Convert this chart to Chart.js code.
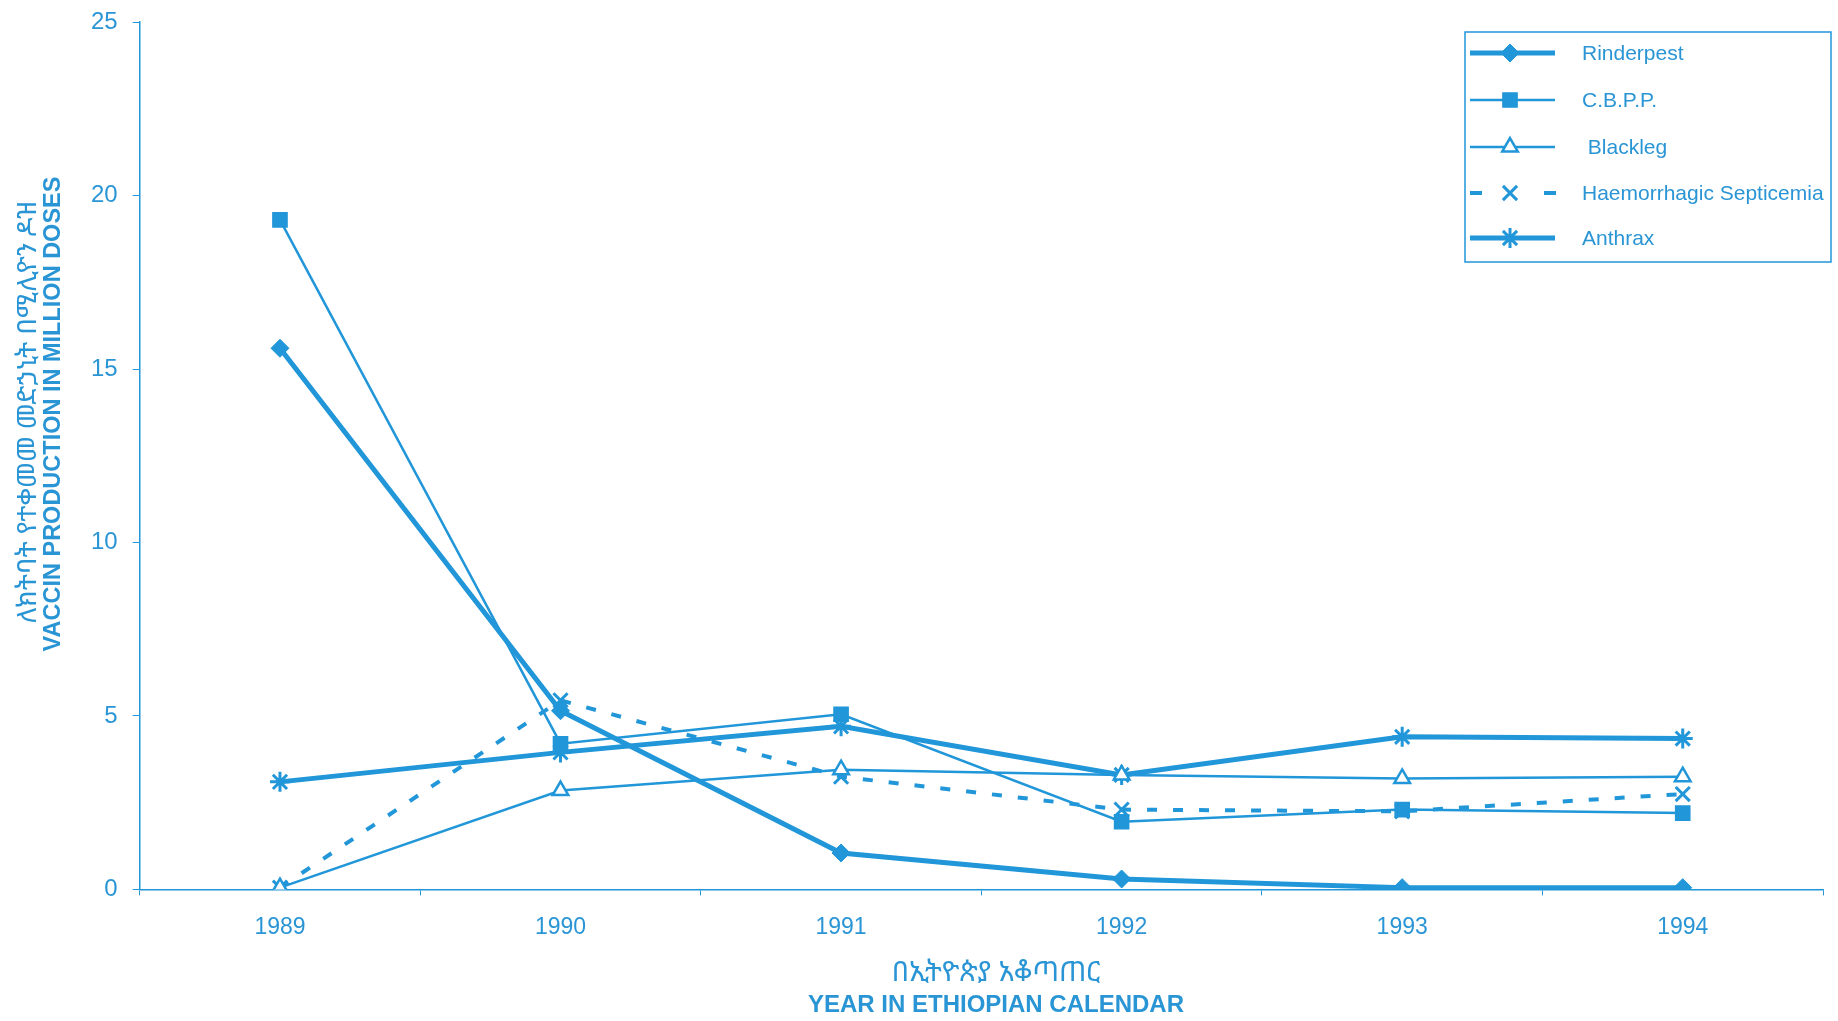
<!DOCTYPE html>
<html>
<head>
<meta charset="utf-8">
<script src="https://cdn.jsdelivr.net/npm/chart.js@4.4.1/dist/chart.umd.min.js"></script>
<style>
    html, body { margin: 0; padding: 0; background: #fff; }
    #wrap { width: 1838px; height: 1021px; position: relative; }
</style>
</head>
<body>
<div id="wrap"><canvas id="vaccineChart"></canvas></div>
<script>
// Vaccine production by year (million doses)
const years = ['1989', '1990', '1991', '1992', '1993', '1994'];
const rinderpest = [15.6, 5.15, 1.05, 0.3, 0.05, 0.05];
const cbpp = [19.3, 4.2, 5.05, 1.95, 2.3, 2.2];
const blackleg = [0.05, 2.85, 3.45, 3.3, 3.2, 3.25];
const haemSepticemia = [0.05, 5.45, 3.25, 2.3, 2.25, 2.75];
const anthrax = [3.1, 3.95, 4.7, 3.3, 4.4, 4.35];
const yTicks = [0, 5, 10, 15, 20, 25];

const seriesNames = ['Rinderpest', 'C.B.P.P.', ' Blackleg', 'Haemorrhagic Septicemia', 'Anthrax'];

const yTitle = ['ለክትባት የተቀመመ መድኃኒት በሚሊዮን ዶዝ', 'VACCIN PRODUCTION IN MILLION DOSES'];
const xTitle = ['በኢትዮጵያ አቆጣጠር', 'YEAR IN ETHIOPIAN CALENDAR'];

const BLUE = '#2196d8';
const TEXT = '#2a95d5';
const FONT = '"Liberation Sans", Arial, sans-serif';
const ETH_FONT = '"Noto Sans Ethiopic", "Abyssinica SIL", "DejaVu Sans", "Liberation Sans", sans-serif';

/**
 * Draw axis titles and the boxed legend by hand
 */
const decorPlugin = {
    id: 'decor',
    afterDraw(chart) {
        const ctx = chart.ctx;
        ctx.save();
        ctx.fillStyle = TEXT;
        ctx.textAlign = 'center';
        ctx.textBaseline = 'middle';

        // y title (rotated)
        ctx.save();
        ctx.translate(28, 412);
        ctx.rotate(-Math.PI / 2);
        ctx.font = '27px ' + ETH_FONT;
        ctx.fillText(yTitle[0], 0, 0);
        ctx.restore();
        ctx.save();
        ctx.translate(54, 414);
        ctx.rotate(-Math.PI / 2);
        ctx.font = 'bold 23.5px ' + FONT;
        ctx.fillText(yTitle[1], 0, 0);
        ctx.restore();

        // x title
        ctx.font = '28px ' + ETH_FONT;
        ctx.fillText(xTitle[0], 996, 973);
        ctx.font = 'bold 24px ' + FONT;
        ctx.fillText(xTitle[1], 996, 1005);

        // legend box
        ctx.strokeStyle = BLUE;
        ctx.lineWidth = 1.5;
        ctx.strokeRect(1465, 32, 366, 230);

        const rowY = [53, 100, 147, 193, 238];
        chart.data.datasets.forEach((ds, i) => {
            const y = rowY[i];
            ctx.save();
            ctx.strokeStyle = BLUE;
            ctx.lineWidth = ds.borderWidth;
            ctx.beginPath();
            ctx.moveTo(1470, y);
            if (ds.borderDash) {
                ctx.lineTo(1558, y);
                ctx.setLineDash([12, 62]);
            } else {
                ctx.lineTo(1555, y);
            }
            ctx.stroke();
            ctx.restore();

            ctx.save();
            ctx.fillStyle = ds.pointBackgroundColor;
            ctx.strokeStyle = BLUE;
            ctx.lineWidth = ds.pointBorderWidth;
            Chart.helpers.drawPoint(ctx, {
                pointStyle: ds.pointStyle,
                radius: ds.pointRadius,
                borderWidth: ds.pointBorderWidth,
                rotation: 0
            }, 1510, y);
            ctx.restore();

            ctx.fillStyle = TEXT;
            ctx.textAlign = 'left';
            ctx.font = '21px ' + FONT;
            ctx.fillText(ds.label, 1582, y + 1);
        });
        ctx.restore();
    }
};

function makeDataset(label, values, opts) {
    return Object.assign({
        label: label,
        data: values,
        borderColor: BLUE,
        backgroundColor: BLUE,
        pointBackgroundColor: BLUE,
        pointBorderColor: BLUE,
        tension: 0,
        fill: false
    }, opts);
}

const ctx = document.getElementById('vaccineChart');

new Chart(ctx, {
    type: 'line',
    data: {
        labels: years,
        datasets: [
            makeDataset(seriesNames[0], rinderpest, {
                borderWidth: 5, pointStyle: 'rectRot', pointRadius: 9, pointBorderWidth: 1
            }),
            makeDataset(seriesNames[1], cbpp, {
                borderWidth: 2.5, pointStyle: 'rect', pointRadius: 10, pointBorderWidth: 1.5
            }),
            makeDataset(seriesNames[2], blackleg, {
                borderWidth: 2.5, pointStyle: 'triangle', pointRadius: 9, pointBorderWidth: 2.5,
                pointBackgroundColor: '#ffffff'
            }),
            makeDataset(seriesNames[3], haemSepticemia, {
                borderWidth: 4, borderDash: [10, 16], pointStyle: 'crossRot', pointRadius: 10, pointBorderWidth: 3
            }),
            makeDataset(seriesNames[4], anthrax, {
                borderWidth: 5, pointStyle: 'star', pointRadius: 10, pointBorderWidth: 3
            })
        ]
    },
    options: {
        responsive: true,
        maintainAspectRatio: false,
        animation: false,
        layout: {
            padding: { left: 76, right: 15, top: 0, bottom: 62 }
        },
        plugins: {
            legend: { display: false },
            tooltip: { enabled: false }
        },
        scales: {
            x: {
                offset: true,
                grid: {
                    offset: true,
                    drawOnChartArea: false,
                    drawTicks: true,
                    tickLength: 6,
                    color: BLUE
                },
                border: { color: BLUE, width: 1.5 },
                ticks: {
                    color: TEXT,
                    padding: 18,
                    font: { family: FONT, size: 23 }
                }
            },
            y: {
                min: 0,
                max: 25,
                afterBuildTicks: (axis) => {
                    axis.ticks = yTicks.map(v => ({ value: v }));
                },
                grid: {
                    drawOnChartArea: false,
                    drawTicks: true,
                    tickLength: 7,
                    color: BLUE
                },
                border: { color: BLUE, width: 1.5 },
                ticks: {
                    color: TEXT,
                    padding: 15,
                    font: { family: FONT, size: 24, lineHeight: 0.6 }
                }
            }
        }
    },
    plugins: [decorPlugin]
});
</script>
</body>
</html>
